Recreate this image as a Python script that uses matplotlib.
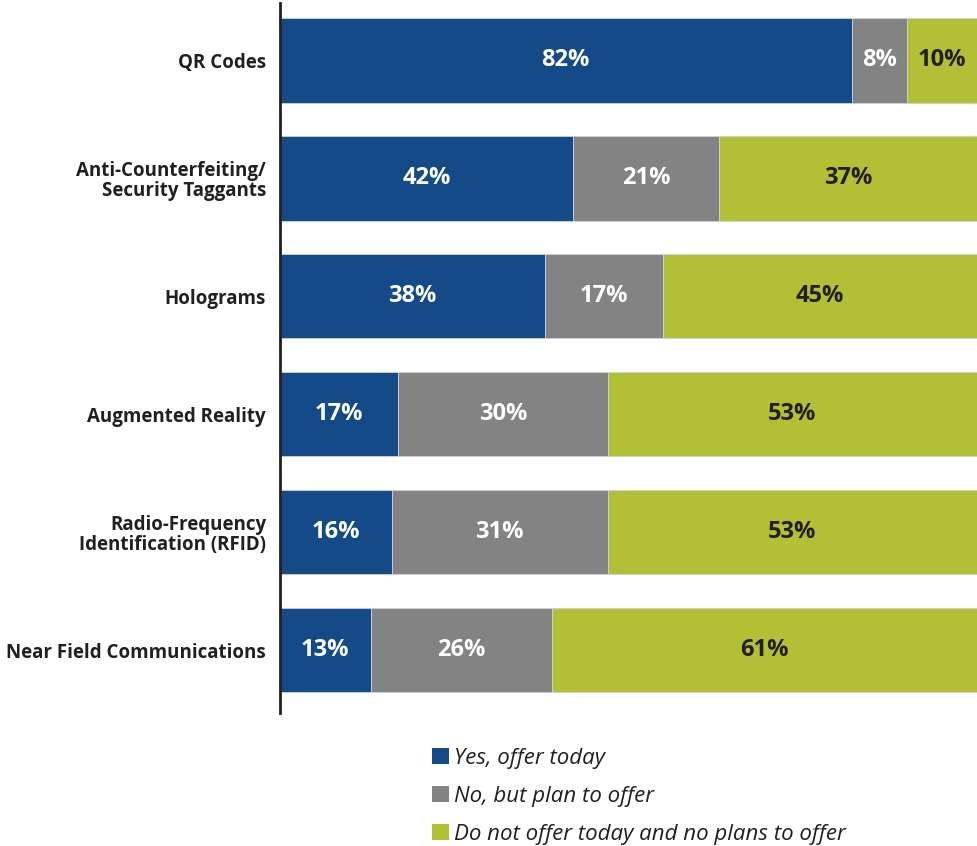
import numpy as np
import matplotlib.pyplot as plt
from matplotlib.patches import Patch

categories = ['QR Codes', 'Anti-Counterfeiting/\nSecurity Taggants', 'Holograms',
              'Augmented Reality', 'Radio-Frequency\nIdentification (RFID)',
              'Near Field Communications']
yes_today = [82, 42, 38, 17, 16, 13]
plan_to = [8, 21, 17, 30, 31, 26]
no_plans = [10, 37, 45, 53, 53, 61]
series_names = ['Yes, offer today', 'No, but plan to offer',
                'Do not offer today and no plans to offer']

colors = ['#134A87', '#838383', '#B3C035']
text_colors = ['white', 'white', '#231F20']

plt.rcParams['font.family'] = ['Open Sans', 'DejaVu Sans']

fig = plt.figure(figsize=(9.77, 8.46), dpi=100)
ax = fig.add_axes([280 / 977, 0.1572, 1 - 280 / 977, 0.8392])

y = np.arange(len(categories))
left = np.zeros(len(categories))
for vals, c, tc in zip([yes_today, plan_to, no_plans], colors, text_colors):
    vals = np.array(vals, dtype=float)
    ax.barh(y, vals, left=left, height=0.72, color=c, edgecolor='#C9D3E0', linewidth=0.6)
    for yi, l, v in zip(y, left, vals):
        ax.text(l + v / 2, yi, f'{int(v)}%', ha='center', va='center',
                color=tc, fontsize=17, fontweight='bold')
    left += vals

ax.set_xlim(0, 100)
ax.set_ylim(5.534, -0.483)
ax.set_yticks(y)
ax.set_yticklabels(categories, fontsize=13.5, fontweight='bold', color='#231F20',
                   linespacing=1.0)
ax.tick_params(axis='y', length=0, pad=10)
ax.set_xticks([])
for s in ['top', 'right', 'bottom']:
    ax.spines[s].set_visible(False)
ax.spines['left'].set_linewidth(2)
ax.spines['left'].set_color('#231F20')

handles = [Patch(facecolor=c, edgecolor='none') for c in colors]
leg = fig.legend(handles, series_names, loc='upper left',
                 bbox_to_anchor=(412 / 977, 1 - 728 / 846), frameon=False,
                 handlelength=0.75, handleheight=0.75, handletextpad=0.25,
                 labelspacing=0.76, prop={'size': 16, 'style': 'italic'})
for t in leg.get_texts():
    t.set_color('#231F20')

fig.savefig('out.png', dpi=100)
